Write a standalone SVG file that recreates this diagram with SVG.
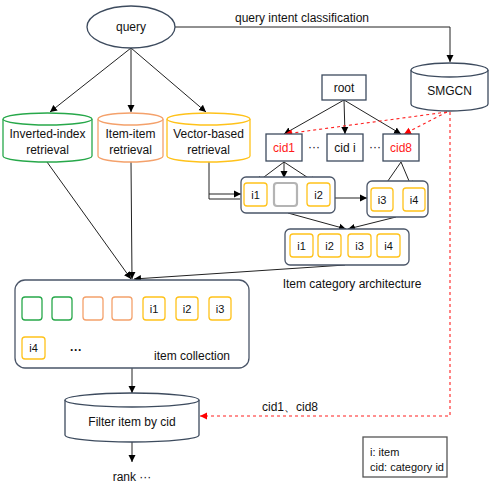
<svg xmlns="http://www.w3.org/2000/svg" width="491" height="490" viewBox="0 0 491 490">
<defs>
<marker id="ah" markerWidth="8" markerHeight="8" refX="7" refY="4" orient="auto" markerUnits="userSpaceOnUse"><path d="M0,0.5 L7,4 L0,7.5 z" fill="#000"/></marker>
<marker id="ahr" markerWidth="8" markerHeight="8" refX="7" refY="4" orient="auto" markerUnits="userSpaceOnUse"><path d="M0,0.5 L7,4 L0,7.5 z" fill="#ff0000"/></marker>
<style>
text{font-family:"Liberation Sans","DejaVu Sans",sans-serif;font-size:12px;fill:#111;text-anchor:middle;dominant-baseline:central}
.node{fill:#fff;stroke:#3d4b5e;stroke-width:1.3}
.grp{fill:#fff;stroke:#4a5568;stroke-width:1.3}
.yel{fill:#fff;stroke:#ffc21a;stroke-width:1.3}
.grn{fill:#fff;stroke:#27a84a;stroke-width:1.3}
.org{fill:#fff;stroke:#f4a16b;stroke-width:1.3}
.ln{fill:none;stroke:#222;stroke-width:1}
.red{fill:none;stroke:#ff2020;stroke-width:1.1;stroke-dasharray:3,3}
.small{font-size:11px}
.redt{fill:#ff1a1a}
</style>
</defs>

<g id="connectors">
<polyline class="ln" points="175,27 450,27 450,62" marker-end="url(#ah)"/>
<line class="ln" x1="131" y1="48" x2="50" y2="112" marker-end="url(#ah)"/>
<line class="ln" x1="131" y1="48" x2="131" y2="112" marker-end="url(#ah)"/>
<line class="ln" x1="131" y1="48" x2="206" y2="112" marker-end="url(#ah)"/>
<line class="ln" x1="344" y1="100" x2="284" y2="134" marker-end="url(#ah)"/>
<line class="ln" x1="344" y1="100" x2="345" y2="134" marker-end="url(#ah)"/>
<line class="ln" x1="344" y1="100" x2="401" y2="134" marker-end="url(#ah)"/>
<line class="red" x1="447" y1="112" x2="285" y2="134" marker-end="url(#ahr)"/>
<line class="red" x1="447" y1="112" x2="404" y2="134" marker-end="url(#ahr)"/>
<line class="ln" x1="284" y1="162" x2="256" y2="183" marker-end="url(#ah)"/>
<line class="ln" x1="284" y1="162" x2="284" y2="178" marker-end="url(#ah)"/>
<line class="ln" x1="284" y1="162" x2="316" y2="183" marker-end="url(#ah)"/>
<line class="ln" x1="401" y1="162" x2="383" y2="188" marker-end="url(#ah)"/>
<line class="ln" x1="401" y1="162" x2="412" y2="188" marker-end="url(#ah)"/>
<polyline class="ln" points="209,161 209,199 240,199"/>
<line class="ln" x1="209" y1="194" x2="241" y2="194" marker-end="url(#ah)"/>
<line class="ln" x1="335" y1="198" x2="367" y2="198" marker-end="url(#ah)"/>
<line class="ln" x1="288" y1="213" x2="346" y2="229" marker-end="url(#ah)"/>
<line class="ln" x1="396" y1="217" x2="348" y2="229" marker-end="url(#ah)"/>
<line class="ln" x1="345" y1="265" x2="134" y2="279" marker-end="url(#ah)"/>
<line class="ln" x1="47" y1="162" x2="131" y2="279" marker-end="url(#ah)"/>
<line class="ln" x1="131" y1="162" x2="132" y2="279" marker-end="url(#ah)"/>
<line class="ln" x1="132" y1="368" x2="132" y2="393" marker-end="url(#ah)"/>
<line class="ln" x1="132" y1="442" x2="132" y2="462" marker-end="url(#ah)"/>
<polyline class="red" points="450,112 450,416 200,416" marker-end="url(#ahr)"/>
<text x="302" y="18">query intent classification</text>
<text x="290" y="407">cid1、cid8</text>
</g>

<g id="query">
<ellipse class="node" cx="131" cy="27" rx="44" ry="21"/>
<text x="131" y="27">query</text>
</g>

<g id="inverted">
<path class="grn" d="M3,119 L3,156 A44.5,6 0 0 0 92,156 L92,119"/>
<ellipse class="grn" cx="47.5" cy="119" rx="44.5" ry="6"/>
<text x="47.5" y="134">Inverted-index</text>
<text x="47.5" y="150">retrieval</text>
</g>

<g id="itemitem">
<path class="org" d="M98,119 L98,156 A32.5,6 0 0 0 163,156 L163,119"/>
<ellipse class="org" cx="130.5" cy="119" rx="32.5" ry="6"/>
<text x="130.5" y="134">Item-item</text>
<text x="130.5" y="150">retrieval</text>
</g>

<g id="vector">
<path class="yel" d="M167,119 L167,156 A41.5,6 0 0 0 250,156 L250,119"/>
<ellipse class="yel" cx="208.5" cy="119" rx="41.5" ry="6"/>
<text x="208.5" y="134">Vector-based</text>
<text x="208.5" y="150">retrieval</text>
</g>

<g id="smgcn">
<path class="node" d="M411,70 L411,104 A38.5,7 0 0 0 488,104 L488,70"/>
<ellipse class="node" cx="449.5" cy="70" rx="38.5" ry="7"/>
<text x="449.5" y="91">SMGCN</text>
</g>

<g id="root">
<rect class="node" x="322" y="75" width="44" height="25"/>
<text x="344" y="88">root</text>
</g>

<g id="cid1">
<rect class="node" x="266" y="134" width="36" height="27"/>
<text x="284" y="148" class="redt">cid1</text>
</g>
<text x="314" y="147">···</text>
<g id="cidi">
<rect class="node" x="327" y="134" width="36" height="27"/>
<text x="345" y="148">cid i</text>
</g>
<text x="375" y="147">···</text>
<g id="cid8">
<rect class="node" x="383" y="134" width="36" height="27"/>
<text x="401" y="148" class="redt">cid8</text>
</g>

<g id="group1">
<rect class="grp" x="241" y="177" width="94" height="36" rx="5"/>
<rect class="yel" x="244" y="183" width="23" height="23" rx="3"/>
<text x="255.5" y="195" class="small">i1</text>
<rect x="274" y="183" width="23" height="23" rx="3" fill="#fff" stroke="#b4b4b4" stroke-width="2.2"/>
<rect class="yel" x="307" y="183" width="23" height="23" rx="3"/>
<text x="318.5" y="195" class="small">i2</text>
</g>

<g id="group2">
<rect class="grp" x="367" y="181" width="61" height="36" rx="5"/>
<rect class="yel" x="371" y="188" width="22" height="23" rx="3"/>
<text x="382" y="200" class="small">i3</text>
<rect class="yel" x="403" y="188" width="22" height="23" rx="3"/>
<text x="414" y="200" class="small">i4</text>
</g>

<g id="group3">
<rect class="grp" x="285" y="229" width="124" height="36" rx="5"/>
<rect class="yel" x="290" y="234" width="23" height="23" rx="3"/>
<text x="301.5" y="246" class="small">i1</text>
<rect class="yel" x="318" y="234" width="23" height="23" rx="3"/>
<text x="329.5" y="246" class="small">i2</text>
<rect class="yel" x="348" y="234" width="23" height="23" rx="3"/>
<text x="359.5" y="246" class="small">i3</text>
<rect class="yel" x="377" y="234" width="23" height="23" rx="3"/>
<text x="388.5" y="246" class="small">i4</text>
<text x="352" y="284">Item category architecture</text>
</g>

<g id="collection">
<rect class="grp" x="15" y="280" width="234" height="88" rx="10"/>
<rect class="grn" x="22" y="297" width="20" height="23" rx="3"/>
<rect class="grn" x="52" y="297" width="20" height="23" rx="3"/>
<rect class="org" x="83" y="297" width="20" height="23" rx="3"/>
<rect class="org" x="112" y="297" width="20" height="23" rx="3"/>
<rect class="yel" x="143" y="297" width="22" height="23" rx="3"/>
<text x="154" y="309" class="small">i1</text>
<rect class="yel" x="176" y="297" width="22" height="23" rx="3"/>
<text x="187" y="309" class="small">i2</text>
<rect class="yel" x="209" y="297" width="22" height="23" rx="3"/>
<text x="220" y="309" class="small">i3</text>
<rect class="yel" x="22" y="337" width="23" height="22" rx="3"/>
<text x="33.5" y="348" class="small">i4</text>
<text x="76" y="350" style="font-weight:bold">···</text>
<text x="192" y="356">item collection</text>
</g>

<g id="filter">
<path class="node" d="M65,400 L65,435 A67,7 0 0 0 199,435 L199,400"/>
<ellipse class="node" cx="132" cy="400" rx="67" ry="7"/>
<text x="132" y="422">Filter item by cid</text>
</g>

<g id="rank">
<text x="132" y="477">rank ···</text>
</g>

<g id="legend">
<rect x="363" y="437" width="84" height="40" fill="#fff" stroke="#555" stroke-width="1.3"/>
<text x="370" y="452" class="small" style="text-anchor:start">i: item</text>
<text x="370" y="467" class="small" style="text-anchor:start">cid: category id</text>
</g>
</svg>
